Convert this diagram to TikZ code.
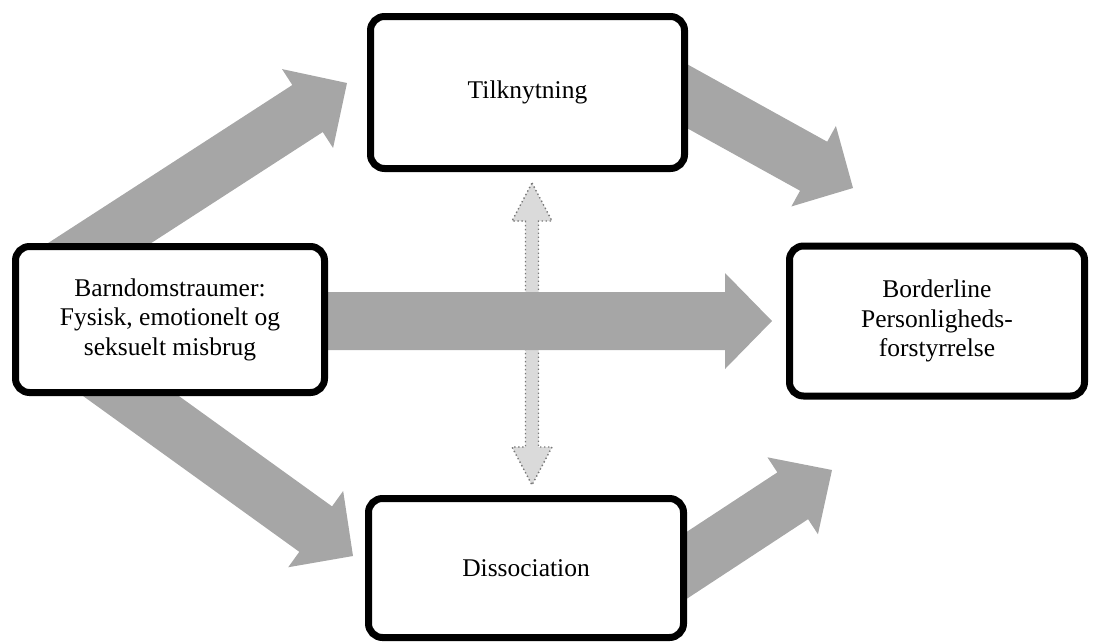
\documentclass[tikz,border=0pt]{standalone}
\usepackage{fontspec}
\setmainfont{Liberation Serif}
\usetikzlibrary{calc}
\pgfdeclarelayer{bg}
\pgfsetlayers{bg,main}
\definecolor{arrowgray}{RGB}{166,166,166}
\definecolor{dotfill}{RGB}{218,218,218}
\definecolor{dotline}{RGB}{120,120,120}
% #1 start, #2 tip, #3 shaft half width, #4 head half width, #5 head length, #6 style
\newcommand\blockarrow[6]{%
  \coordinate (tmpH) at ($(#2)!#5!(#1)$);
  \path[#6] ($(#1)!#3!90:(#2)$) -- ($(tmpH)!#3!-90:(#1)$) -- ($(tmpH)!#4!-90:(#1)$)
    -- (#2) -- ($(tmpH)!#4!90:(#1)$) -- ($(tmpH)!#3!90:(#1)$) -- ($(#1)!#3!-90:(#2)$) -- cycle;
}
\begin{document}
\begin{tikzpicture}[x=1pt,y=-1pt,
  box/.style={draw=black, line width=7pt, rounded corners=14pt, fill=white,
    align=center, inner sep=0pt, font=\fontsize{25.5}{29.5}\selectfont},
  bigarrow/.style={fill=arrowgray},
  dotarrow/.style={fill=dotfill, draw=dotline, line width=1.4pt,
    dash pattern=on 1.4pt off 2.6pt}]
\useasboundingbox (0,0) rectangle (1094,643);

% boxes
\node[box, minimum width=309pt, minimum height=146pt] (A) at (170,319.5)
  {Barndomstraumer:\\Fysisk, emotionelt og\\seksuelt misbrug\hspace*{0pt}};
\node[box, minimum width=314pt, minimum height=152pt] (T) at (527.5,92.5) {Tilknytning};
\node[box, minimum width=295pt, minimum height=150pt] (R) at (937,321)
  {Borderline\\Personligheds-\\forstyrrelse};
\node[box, minimum width=315pt, minimum height=139pt] (D) at (526,568) {Dissociation};

% arrow end points
\coordinate (at1) at (58,270);   \coordinate (tp1) at (347,83);
\coordinate (at2) at (300,321);  \coordinate (tp2) at (772,321);
\coordinate (at3) at (600,48);   \coordinate (tp3) at (853,188);
\coordinate (at4) at (81,360);   \coordinate (tp4) at (353,556);
\coordinate (at5) at (640,596);  \coordinate (tp5) at (832,470);
\coordinate (dt) at (532,183);   \coordinate (db) at (532,485);

\begin{pgfonlayer}{bg}
  % dotted double arrow between Tilknytning and Dissociation
  \path[dotarrow] (dt) -- ($(dt)+(20,38)$) -- ($(dt)+(6.5,38)$) -- ($(db)+(6.5,-38)$)
    -- ($(db)+(20,-38)$) -- (db) -- ($(db)+(-20,-38)$) -- ($(db)+(-6.5,-38)$)
    -- ($(dt)+(-6.5,38)$) -- ($(dt)+(-20,38)$) -- cycle;
  % block arrows
  \blockarrow{at1}{tp1}{28pt}{47pt}{47pt}{bigarrow}
  \blockarrow{at2}{tp2}{29pt}{48pt}{47pt}{bigarrow}
  \blockarrow{at3}{tp3}{28pt}{46pt}{45pt}{bigarrow}
  \blockarrow{at4}{tp4}{28pt}{47pt}{46pt}{bigarrow}
  \blockarrow{at5}{tp5}{28pt}{46pt}{47pt}{bigarrow}
\end{pgfonlayer}
\end{tikzpicture}
\end{document}
